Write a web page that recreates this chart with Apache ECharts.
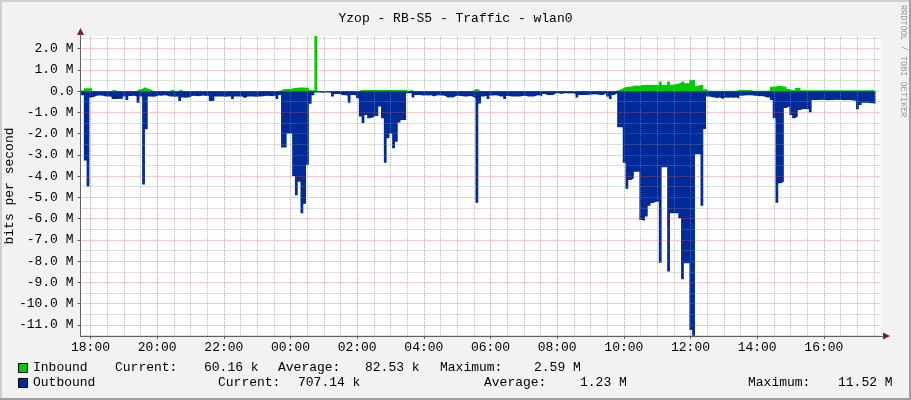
<!DOCTYPE html>
<html><head><meta charset="utf-8">
<script src="https://cdn.jsdelivr.net/npm/echarts@6/dist/echarts.min.js"></script>
<style>html,body{margin:0;padding:0;background:#F2F2F2}#c{width:911px;height:400px}</style>
</head><body><div id="c"></div>
<script>
// ---- data (Mbit/s), one sample every 5 minutes starting 17:43 ----
const chartTitle = 'Yzop - RB-S5 - Traffic - wlan0';
const yAxisTitle = 'bits per second';
const watermark = 'RRDTOOL / TOBI OETIKER';
const startMinute = -17;      // minutes relative to 18:00
const stepMinutes = 5;
const inbound = [
0.03,0.13,0.13,0.13,0.005,0.005,0.005,0.005,0.005,0.005,
0.005,0.06,0.005,0.005,0.005,0.005,0.005,0.005,0.005,0.005,
0.08,0.10,0.18,0.12,0.08,0.005,0.005,0.005,0.005,0.005,
0.005,0.005,0.06,0.005,0.005,0.06,0.005,0.005,0.005,0.005,
0.005,0.005,0.005,0.005,0.005,0.005,0.005,0.005,0.005,0.005,
0.005,0.005,0.005,0.005,0.005,0.005,0.005,0.005,0.005,0.005,
0.005,0.005,0.005,0.005,0.005,0.005,0.005,0.005,0.005,0.005,
0.005,0.03,0.08,0.10,0.10,0.12,0.15,0.16,0.17,0.17,
0.16,0.15,0.05,0.03,2.59,0.005,0.005,0.005,0.005,0.005,
0.005,0.005,0.005,0.005,0.005,0.005,0.005,0.005,0.005,0.005,
0.05,0.05,0.05,0.05,0.05,0.05,0.05,0.05,0.05,0.05,
0.05,0.05,0.05,0.05,0.05,0.05,0.05,0.005,0.05,0.005,
0.005,0.005,0.005,0.005,0.005,0.005,0.005,0.005,0.005,0.005,
0.005,0.005,0.005,0.005,0.005,0.005,0.005,0.005,0.005,0.005,
0.005,0.08,0.08,0.005,0.005,0.005,0.005,0.005,0.005,0.005,
0.005,0.005,0.005,0.005,0.005,0.005,0.005,0.005,0.005,0.005,
0.005,0.005,0.005,0.005,0.005,0.005,0.005,0.005,0.005,0.005,
0.005,0.005,0.005,0.005,0.005,0.005,0.005,0.005,0.005,0.005,
0.005,0.005,0.005,0.005,0.005,0.005,0.005,0.005,0.005,0.005,
0.005,0.005,0.03,0.06,0.12,0.18,0.20,0.22,0.25,0.26,
0.25,0.28,0.29,0.30,0.29,0.30,0.29,0.30,0.45,0.28,
0.30,0.45,0.30,0.32,0.35,0.40,0.48,0.37,0.37,0.52,
0.52,0.25,0.28,0.30,0.08,0.02,0.02,0.02,0.02,0.02,
0.02,0.02,0.02,0.02,0.02,0.02,0.05,0.05,0.05,0.05,
0.05,0.02,0.02,0.02,0.02,0.02,0.02,0.03,0.20,0.22,
0.24,0.24,0.22,0.20,0.10,0.05,0.05,0.15,0.15,0.04,
0.04,0.04,0.04,0.04,0.04,0.04,0.04,0.04,0.04,0.04,
0.04,0.04,0.04,0.04,0.04,0.04,0.04,0.04,0.04,0.04,
0.04,0.04,0.04,0.04,0.05,0.05,0.06
];
const outbound = [
0.20,3.27,4.49,0.30,0.26,0.21,0.21,0.22,0.26,0.26,
0.27,0.37,0.37,0.36,0.37,0.25,0.42,0.23,0.22,0.24,
0.55,0.26,4.40,1.80,0.26,0.27,0.25,0.21,0.22,0.20,
0.21,0.26,0.25,0.27,0.26,0.47,0.30,0.31,0.29,0.23,
0.22,0.24,0.23,0.21,0.23,0.22,0.47,0.45,0.26,0.25,
0.26,0.27,0.25,0.26,0.37,0.26,0.25,0.26,0.34,0.26,
0.25,0.26,0.27,0.25,0.26,0.23,0.22,0.23,0.24,0.22,
0.37,0.18,2.65,2.65,2.00,2.00,4.00,4.90,4.26,5.75,
5.30,3.47,0.60,0.20,0.07,0.07,0.08,0.07,0.07,0.08,
0.26,0.14,0.14,0.18,0.20,0.21,0.55,0.18,0.20,0.34,
1.20,1.50,1.13,1.28,1.24,1.17,1.17,0.73,1.28,3.37,
2.22,1.99,2.69,2.38,1.48,1.36,1.36,0.10,0.10,0.30,
0.18,0.18,0.21,0.20,0.21,0.20,0.26,0.21,0.20,0.21,
0.22,0.30,0.29,0.30,0.23,0.22,0.23,0.26,0.25,0.23,
0.26,0.34,5.25,0.58,0.25,0.23,0.37,0.21,0.20,0.21,
0.26,0.25,0.37,0.23,0.26,0.26,0.25,0.26,0.23,0.22,
0.26,0.25,0.26,0.21,0.20,0.26,0.14,0.18,0.18,0.19,
0.10,0.10,0.14,0.10,0.10,0.11,0.10,0.14,0.30,0.18,
0.18,0.18,0.17,0.16,0.15,0.16,0.18,0.18,0.10,0.26,
0.37,0.18,0.10,1.70,1.70,3.37,4.60,4.18,4.10,3.79,
3.80,6.06,6.10,5.90,5.39,5.27,5.20,5.20,8.07,3.58,
3.58,8.49,5.75,5.75,5.75,5.98,8.85,8.10,8.10,11.24,
11.52,2.97,2.97,5.39,1.78,0.26,0.28,0.30,0.33,0.30,
0.37,0.30,0.32,0.30,0.31,0.30,0.36,0.22,0.21,0.20,
0.20,0.21,0.22,0.24,0.23,0.25,0.30,0.30,0.42,1.28,
5.25,4.34,4.26,0.80,0.73,1.13,1.28,1.20,0.89,0.84,
0.84,0.84,1.00,0.42,0.42,0.42,0.41,0.42,0.43,0.42,
0.42,0.41,0.42,0.42,0.43,0.42,0.42,0.44,0.45,0.86,
0.65,0.55,0.55,0.56,0.57,0.60,0.71
];
const xTickMinutes = [0,120,240,360,480,600,720,840,960,1080,1200,1320];
const xTickLabels = ['18:00','20:00','22:00','00:00','02:00','04:00','06:00','08:00','10:00','12:00','14:00','16:00'];
const yTickValues = [2,1,0,-1,-2,-3,-4,-5,-6,-7,-8,-9,-10,-11];
const yTickLabels = ['2.0 M','1.0 M','0.0','-1.0 M','-2.0 M','-3.0 M','-4.0 M','-5.0 M','-6.0 M','-7.0 M','-8.0 M','-9.0 M','-10.0 M','-11.0 M'];
const legendNames = ['Inbound','Outbound'];
const inboundStats = ['60.16 k','82.53 k','2.59 M'];
const outboundStats = ['707.14 k','1.23 M','11.52 M'];

// ---- styling / layout ----
const FONT = 'Liberation Mono';
const C_IN = '#00CC00', C_OUT = '#002A97';
const PL = 80.5, PT = 36, PW = 800, PH = 300;
const X_MIN = -18, X_MAX = 1422, Y_MIN = -11.52e6, Y_MAX = 2.59e6;

const inData = inbound.map((v, i) => [startMinute + i * stepMinutes, v * 1e6]);
const outData = outbound.map((v, i) => [startMinute + i * stepMinutes, -v * 1e6]);

const minorStyle = {color: 'rgba(143,143,143,0.6)', width: 1, type: [1, 1]};
const majorStyle = {color: 'rgba(222,80,80,0.6)', width: 1, type: [1, 1]};
const gridItems = [];
for (let m = 0; m < X_MAX; m += 30) gridItems.push({xAxis: m, lineStyle: (m % 120 === 0) ? majorStyle : minorStyle});
for (let k = -23; k <= 5; k++) gridItems.push({yAxis: k * 0.5e6, lineStyle: (k % 2 === 0) ? majorStyle : minorStyle});

const txt = (x, y, s, extra) => Object.assign({type: 'text', x: x, y: y, style: {text: s, fill: '#000', font: '13px "' + FONT + '"', textVerticalAlign: 'middle'}}, extra || {});

const graphics = [
  // 3D frame
  {type: 'rect', shape: {x: 0, y: 0, width: 911, height: 2}, style: {fill: '#CFCFCF'}, z: 10},
  {type: 'rect', shape: {x: 0, y: 0, width: 2, height: 400}, style: {fill: '#CFCFCF'}, z: 10},
  {type: 'rect', shape: {x: 909, y: 0, width: 2, height: 400}, style: {fill: '#9E9E9E'}, z: 11},
  {type: 'rect', shape: {x: 0, y: 398, width: 911, height: 2}, style: {fill: '#9E9E9E'}, z: 11},
  // axis arrows
  {type: 'polygon', shape: {points: [[80.5, 28], [77, 35], [84, 35]]}, style: {fill: '#801F1F'}, z: 10},
  {type: 'polygon', shape: {points: [[890, 336], [883, 332.5], [883, 339.5]]}, style: {fill: '#801F1F'}, z: 10},
  {type: 'line', shape: {x1: 880, y1: 336.5, x2: 884, y2: 336.5}, style: {stroke: '#5f5f5f', lineWidth: 1}, z: 10},
  {type: 'line', shape: {x1: 80.5, y1: 33, x2: 80.5, y2: 36}, style: {stroke: '#5f5f5f', lineWidth: 1}, z: 10},
  // watermark
  {type: 'text', x: 903, y: 5, rotation: -Math.PI / 2, style: {text: watermark, fill: '#9a9a9a', font: '8.5px "' + FONT + '"', textVerticalAlign: 'middle'}, z: 10},
  // legend
  {type: 'rect', shape: {x: 18.5, y: 363.5, width: 9, height: 9}, style: {fill: C_IN, stroke: '#000', lineWidth: 1}, z: 10},
  {type: 'rect', shape: {x: 18.5, y: 378.5, width: 9, height: 9}, style: {fill: C_OUT, stroke: '#000', lineWidth: 1}, z: 10},
  txt(33, 368, legendNames[0]), txt(115, 368, 'Current:'), txt(204, 368, inboundStats[0]),
  txt(278, 368, 'Average:'), txt(365, 368, inboundStats[1]), txt(440, 368, 'Maximum:'), txt(534, 368, inboundStats[2]),
  txt(33, 383, legendNames[1]), txt(218, 383, 'Current:'), txt(298, 383, outboundStats[0]),
  txt(484, 383, 'Average:'), txt(580, 383, outboundStats[1]), txt(748, 383, 'Maximum:'), txt(838, 383, outboundStats[2])
];

const chart = echarts.init(document.getElementById('c'), null, {renderer: 'canvas'});
chart.setOption({
  backgroundColor: '#F2F2F2',
  animation: false,
  title: {text: chartTitle, left: 'center', top: 7, textStyle: {fontFamily: FONT, fontSize: 13, fontWeight: 'normal', color: '#000'}},
  grid: {left: PL, top: PT, width: PW, height: PH, show: true, backgroundColor: '#FFFFFF', borderWidth: 0,
    containLabel: false, outerBoundsMode: 'none'},
  xAxis: {
    type: 'value', min: X_MIN, max: X_MAX,
    axisLine: {show: true, onZero: false, lineStyle: {color: '#5f5f5f', width: 1}},
    axisTick: {show: true, customValues: xTickMinutes, length: 3, lineStyle: {color: '#5f5f5f'}},
    axisLabel: {customValues: xTickMinutes, margin: 5, fontFamily: FONT, fontSize: 13, color: '#000',
      formatter: v => xTickLabels[xTickMinutes.indexOf(v)] || ''},
    splitLine: {show: false}
  },
  yAxis: {
    type: 'value', min: Y_MIN, max: Y_MAX,
    name: yAxisTitle, nameLocation: 'middle', nameRotate: 90, nameGap: 64, nameMoveOverlap: false,
    nameTextStyle: {fontFamily: FONT, fontSize: 13, color: '#000'},
    axisLine: {show: true, onZero: false, lineStyle: {color: '#5f5f5f', width: 1}},
    axisTick: {show: true, customValues: yTickValues.map(v => v * 1e6), length: 3, lineStyle: {color: '#5f5f5f'}},
    axisLabel: {customValues: yTickValues.map(v => v * 1e6), margin: 7, fontFamily: FONT, fontSize: 13, color: '#000',
      formatter: v => yTickLabels[yTickValues.indexOf(Math.round(v / 1e6))]},
    splitLine: {show: false}
  },
  series: [
    {type: 'line', name: legendNames[0], data: inData, step: 'end', symbol: 'none', z: 2,
      lineStyle: {width: 0, opacity: 0}, areaStyle: {color: C_IN, opacity: 1, origin: 0}},
    {type: 'line', name: legendNames[1], data: outData, step: 'end', symbol: 'none', z: 2,
      lineStyle: {width: 0, opacity: 0}, areaStyle: {color: C_OUT, opacity: 1, origin: 0}},
    {type: 'line', name: 'grid', data: [], z: 3, silent: true,
      markLine: {silent: true, symbol: ['none', 'none'], label: {show: false}, animation: false, data: gridItems}}
  ],
  graphic: graphics
});
</script></body></html>
